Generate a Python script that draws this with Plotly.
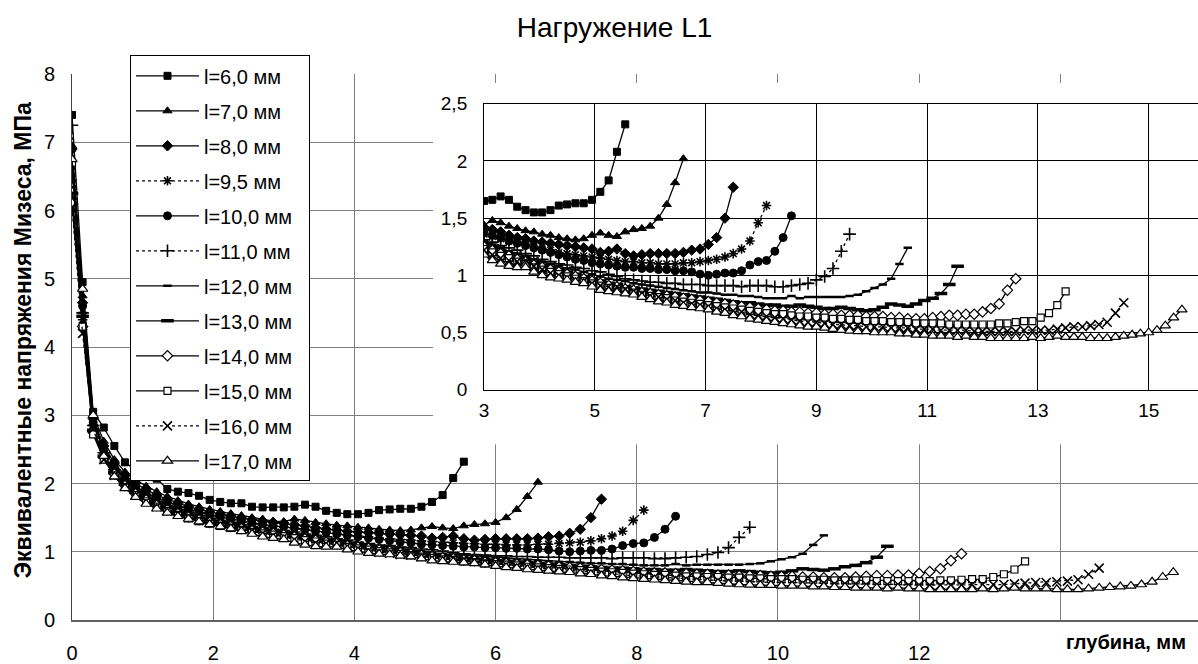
import plotly.graph_objects as go

FONT = "Liberation Sans, Arial, sans-serif"

# depth nodes along the specimen, mm
DEPTH = [
    0.0, 0.15, 0.3, 0.45, 0.6, 0.75, 0.9, 1.05, 1.2, 1.35,
    1.5, 1.65, 1.8, 1.95, 2.1, 2.25, 2.4, 2.55, 2.7, 2.85,
    3.0, 3.15, 3.3, 3.45, 3.6, 3.75, 3.9, 4.05, 4.2, 4.35,
    4.5, 4.65, 4.8, 4.95, 5.1, 5.25, 5.4, 5.55, 5.7, 5.85,
    6.0, 6.15, 6.3, 6.45, 6.6, 6.75, 6.9, 7.05, 7.2, 7.35,
    7.5, 7.65, 7.8, 7.95, 8.1, 8.25, 8.4, 8.55, 8.7, 8.85,
    9.0, 9.15, 9.3, 9.45, 9.6, 9.75, 9.9, 10.05, 10.2, 10.35,
    10.5, 10.65, 10.8, 10.95, 11.1, 11.25, 11.4, 11.55, 11.7, 11.85,
    12.0, 12.15, 12.3, 12.45, 12.6, 12.75, 12.9, 13.05, 13.2, 13.35,
    13.5, 13.65, 13.8, 13.95, 14.1, 14.25, 14.4, 14.55, 14.7, 14.85,
    15.0, 15.15, 15.3, 15.45, 15.6,
]

LABELS = ["l=6,0 мм", "l=7,0 мм", "l=8,0 мм", "l=9,5 мм", "l=10,0 мм", "l=11,0 мм",
          "l=12,0 мм", "l=13,0 мм", "l=14,0 мм", "l=15,0 мм", "l=16,0 мм", "l=17,0 мм"]

# von Mises stress, MPa (one value per depth node)
L6 = [7.40, 4.95, 3.05, 2.82, 2.55, 2.31, 2.20, 2.12, 2.07, 1.92,
      1.88, 1.86, 1.82, 1.76, 1.73, 1.71, 1.71, 1.66, 1.65, 1.65,
      1.65, 1.66, 1.69, 1.66, 1.60, 1.57, 1.55, 1.55, 1.57, 1.61,
      1.62, 1.63, 1.63, 1.66, 1.73, 1.83, 2.08, 2.32]
L7 = [6.95, 4.75, 3.00, 2.62, 2.35, 2.17, 2.05, 1.96, 1.88, 1.81,
      1.75, 1.70, 1.66, 1.62, 1.59, 1.56, 1.53, 1.50, 1.48, 1.45,
      1.44, 1.48, 1.46, 1.43, 1.41, 1.39, 1.38, 1.36, 1.35, 1.33,
      1.32, 1.31, 1.32, 1.35, 1.37, 1.35, 1.34, 1.38, 1.40, 1.41,
      1.43, 1.50, 1.62, 1.81, 2.02]
L8 = [6.90, 4.65, 2.95, 2.55, 2.30, 2.12, 2.00, 1.91, 1.83, 1.77,
      1.71, 1.66, 1.62, 1.58, 1.55, 1.52, 1.49, 1.47, 1.45, 1.43,
      1.42, 1.40, 1.38, 1.35, 1.33, 1.32, 1.30, 1.29, 1.28, 1.27,
      1.26, 1.25, 1.24, 1.23, 1.20, 1.21, 1.23, 1.19, 1.17, 1.18,
      1.19, 1.19, 1.19, 1.19, 1.20, 1.22, 1.23, 1.27, 1.33, 1.50,
      1.77]
L9_5 = [6.45, 4.40, 2.85, 2.45, 2.22, 2.05, 1.93, 1.84, 1.77, 1.71,
        1.65, 1.61, 1.57, 1.53, 1.50, 1.47, 1.44, 1.41, 1.39, 1.37,
        1.36, 1.34, 1.32, 1.30, 1.29, 1.27, 1.25, 1.23, 1.22, 1.20,
        1.19, 1.18, 1.17, 1.16, 1.15, 1.14, 1.13, 1.12, 1.12, 1.11,
        1.11, 1.10, 1.10, 1.10, 1.11, 1.11, 1.12, 1.13, 1.14, 1.16,
        1.19, 1.23, 1.30, 1.46, 1.61]
L10 = [6.90, 4.60, 2.90, 2.50, 2.25, 2.08, 1.95, 1.86, 1.79, 1.73,
       1.67, 1.62, 1.58, 1.54, 1.51, 1.48, 1.45, 1.42, 1.40, 1.38,
       1.37, 1.35, 1.33, 1.30, 1.28, 1.26, 1.24, 1.22, 1.20, 1.18,
       1.16, 1.14, 1.13, 1.11, 1.10, 1.09, 1.08, 1.07, 1.07, 1.06,
       1.06, 1.05, 1.05, 1.04, 1.04, 1.03, 1.01, 1.00, 1.01, 1.02,
       1.02, 1.04, 1.09, 1.12, 1.13, 1.21, 1.33, 1.52]
L11 = [7.25, 4.50, 2.85, 2.45, 2.20, 2.03, 1.91, 1.82, 1.74, 1.68,
       1.62, 1.57, 1.53, 1.49, 1.46, 1.43, 1.40, 1.37, 1.35, 1.33,
       1.31, 1.29, 1.26, 1.24, 1.22, 1.19, 1.17, 1.14, 1.12, 1.10,
       1.09, 1.07, 1.06, 1.04, 1.03, 1.01, 0.99, 0.97, 0.96, 0.95,
       0.94, 0.94, 0.93, 0.93, 0.92, 0.92, 0.92, 0.91, 0.91, 0.91,
       0.91, 0.90, 0.91, 0.91, 0.91, 0.90, 0.90, 0.91, 0.92, 0.93,
       0.96, 0.99, 1.06, 1.21, 1.36]
L12 = [6.20, 4.50, 2.80, 2.42, 2.18, 2.01, 1.89, 1.80, 1.72, 1.66,
       1.60, 1.55, 1.51, 1.47, 1.44, 1.41, 1.38, 1.35, 1.33, 1.31,
       1.29, 1.27, 1.24, 1.21, 1.19, 1.17, 1.14, 1.12, 1.10, 1.08,
       1.06, 1.05, 1.03, 1.01, 0.99, 0.97, 0.96, 0.95, 0.93, 0.92,
       0.91, 0.90, 0.89, 0.88, 0.87, 0.86, 0.85, 0.85, 0.84, 0.83,
       0.83, 0.82, 0.82, 0.81, 0.80, 0.80, 0.80, 0.82, 0.80, 0.81,
       0.81, 0.81, 0.81, 0.81, 0.82, 0.83, 0.86, 0.89, 0.92, 0.97,
       1.10, 1.24]
L13 = [6.25, 4.45, 2.78, 2.40, 2.16, 1.99, 1.87, 1.78, 1.70, 1.64,
       1.58, 1.53, 1.49, 1.45, 1.42, 1.39, 1.36, 1.33, 1.31, 1.29,
       1.27, 1.24, 1.21, 1.19, 1.16, 1.14, 1.11, 1.09, 1.07, 1.05,
       1.03, 1.01, 0.99, 0.97, 0.95, 0.93, 0.92, 0.90, 0.89, 0.88,
       0.87, 0.86, 0.85, 0.84, 0.83, 0.82, 0.81, 0.80, 0.79, 0.78,
       0.77, 0.76, 0.76, 0.75, 0.74, 0.74, 0.73, 0.73, 0.74, 0.73,
       0.72, 0.71, 0.71, 0.72, 0.71, 0.70, 0.69, 0.70, 0.72, 0.75,
       0.74, 0.73, 0.75, 0.78, 0.80, 0.84, 0.92, 1.08]
L14 = [6.10, 4.30, 2.75, 2.38, 2.14, 1.97, 1.85, 1.76, 1.68, 1.62,
       1.56, 1.51, 1.47, 1.43, 1.40, 1.37, 1.34, 1.31, 1.29, 1.27,
       1.25, 1.22, 1.19, 1.17, 1.14, 1.12, 1.09, 1.07, 1.05, 1.03,
       1.01, 0.99, 0.97, 0.95, 0.93, 0.91, 0.90, 0.88, 0.87, 0.85,
       0.84, 0.83, 0.82, 0.81, 0.80, 0.79, 0.78, 0.77, 0.76, 0.75,
       0.74, 0.73, 0.72, 0.71, 0.70, 0.69, 0.69, 0.68, 0.68, 0.67,
       0.67, 0.66, 0.66, 0.65, 0.65, 0.65, 0.64, 0.64, 0.64, 0.63,
       0.63, 0.62, 0.62, 0.62, 0.63, 0.64, 0.65, 0.65, 0.66, 0.66,
       0.68, 0.71, 0.75, 0.87, 0.97]
L15 = [6.70, 4.30, 2.72, 2.35, 2.12, 1.95, 1.83, 1.74, 1.66, 1.60,
       1.54, 1.49, 1.45, 1.41, 1.38, 1.35, 1.32, 1.29, 1.27, 1.25,
       1.23, 1.20, 1.17, 1.15, 1.12, 1.10, 1.07, 1.05, 1.03, 1.01,
       0.99, 0.97, 0.95, 0.93, 0.91, 0.89, 0.88, 0.86, 0.85, 0.83,
       0.82, 0.81, 0.80, 0.78, 0.77, 0.76, 0.75, 0.74, 0.73, 0.72,
       0.71, 0.70, 0.69, 0.68, 0.67, 0.66, 0.66, 0.65, 0.64, 0.64,
       0.63, 0.63, 0.62, 0.62, 0.61, 0.61, 0.60, 0.60, 0.60, 0.59,
       0.59, 0.59, 0.58, 0.58, 0.58, 0.58, 0.57, 0.57, 0.57, 0.57,
       0.57, 0.57, 0.58, 0.58, 0.59, 0.60, 0.60, 0.63, 0.67, 0.74,
       0.86]
L16 = [6.05, 4.20, 2.80, 2.35, 2.12, 1.96, 1.83, 1.74, 1.66, 1.60,
       1.55, 1.50, 1.46, 1.43, 1.39, 1.36, 1.33, 1.30, 1.27, 1.24,
       1.22, 1.18, 1.15, 1.13, 1.12, 1.13, 1.08, 1.05, 1.02, 1.00,
       0.98, 0.96, 0.95, 0.93, 0.91, 0.90, 0.90, 0.88, 0.86, 0.84,
       0.82, 0.81, 0.79, 0.78, 0.76, 0.75, 0.74, 0.73, 0.71, 0.70,
       0.69, 0.68, 0.66, 0.65, 0.64, 0.63, 0.62, 0.61, 0.60, 0.59,
       0.59, 0.58, 0.57, 0.57, 0.56, 0.56, 0.55, 0.55, 0.55, 0.54,
       0.54, 0.54, 0.53, 0.53, 0.53, 0.52, 0.52, 0.52, 0.52, 0.51,
       0.51, 0.51, 0.51, 0.51, 0.51, 0.52, 0.52, 0.52, 0.52, 0.53,
       0.54, 0.55, 0.55, 0.56, 0.57, 0.59, 0.67, 0.76]
L17 = [6.75, 4.85, 3.00, 2.40, 2.10, 1.93, 1.80, 1.70, 1.63, 1.57,
       1.52, 1.48, 1.44, 1.40, 1.37, 1.34, 1.30, 1.26, 1.22, 1.20,
       1.18, 1.13, 1.10, 1.08, 1.07, 1.07, 1.03, 1.00, 0.98, 0.97,
       0.96, 0.94, 0.93, 0.90, 0.87, 0.86, 0.85, 0.84, 0.83, 0.81,
       0.79, 0.77, 0.76, 0.74, 0.73, 0.72, 0.71, 0.70, 0.68, 0.67,
       0.65, 0.64, 0.62, 0.61, 0.60, 0.59, 0.58, 0.57, 0.56, 0.55,
       0.55, 0.54, 0.53, 0.52, 0.515, 0.51, 0.51, 0.50, 0.50, 0.50,
       0.49, 0.49, 0.48, 0.48, 0.47, 0.47, 0.47, 0.46, 0.47, 0.46,
       0.46, 0.45, 0.45, 0.45, 0.45, 0.45, 0.46, 0.45, 0.46, 0.47,
       0.46, 0.46, 0.46, 0.45, 0.45, 0.45, 0.46, 0.47, 0.48, 0.49,
       0.50, 0.52, 0.56, 0.63, 0.70]

SERIES = [L6, L7, L8, L9_5, L10, L11, L12, L13, L14, L15, L16, L17]

MAIN_X_TICKS = [0, 2, 4, 6, 8, 10, 12, 14]
MAIN_X_TEXT = ["0", "2", "4", "6", "8", "10", "12", ""]
INSET_X_TICKS = [3, 5, 7, 9, 11, 13, 15]

# Excel-like marker styles: (symbol, fill, size, marker line width, line dash)
STYLES = [
    ("square", "black", 7, 1, "solid"),
    ("triangle-up", "black", 8, 1, "solid"),
    ("diamond", "black", 8, 1, "solid"),
    ("asterisk-open", "black", 8, 1.6, "dot"),
    ("circle", "black", 8, 1, "solid"),
    ("cross-thin-open", "black", 9, 1.6, "dot"),
    ("line-ew-open", "black", 6, 2.5, "solid"),
    ("line-ew-open", "black", 9, 3.5, "solid"),
    ("diamond", "white", 8, 1.2, "solid"),
    ("square", "white", 7, 1.2, "solid"),
    ("x-thin-open", "black", 9, 1.6, "dot"),
    ("triangle-up", "white", 9, 1.2, "solid"),
]


def add_series(fig, xaxis, yaxis, show_legend):
    for label, values, (symbol, fill, size, mlw, dash) in zip(LABELS, SERIES, STYLES):
        fig.add_trace(go.Scatter(
            x=DEPTH[:len(values)], y=values, name=label + "\u00a0\u00a0", legendgroup=label,
            mode="lines+markers", showlegend=show_legend, xaxis=xaxis, yaxis=yaxis,
            line=dict(color="black", width=1.3, dash=dash),
            marker=dict(symbol=symbol, color=fill, size=size,
                        line=dict(color="black", width=mlw)),
        ))


fig = go.Figure()
add_series(fig, "x", "y", True)
# empty subplot used only as a white panel behind the inset
fig.add_trace(go.Scatter(x=[], y=[], xaxis="x2", yaxis="y2", showlegend=False, hoverinfo="skip"))
add_series(fig, "x3", "y3", False)

fig.update_layout(
    width=1198, height=664,
    margin=dict(l=72, r=0, t=74, b=40),
    paper_bgcolor="white", plot_bgcolor="white",
    separators=", ",
    font=dict(family=FONT, size=20, color="black"),
    showlegend=True,
    title=dict(text="Нагружение L1", x=0.513, xanchor="center", y=0.959, yanchor="middle",
               font=dict(family=FONT, size=28, color="black")),
    legend=dict(x=0.0515, y=0.254, xanchor="left", yanchor="bottom", bgcolor="white",
                bordercolor="black", borderwidth=1, font=dict(size=20),
                tracegroupgap=6, itemwidth=63),
    xaxis=dict(domain=[0, 1], range=[0, 15.95], tickvals=MAIN_X_TICKS, ticktext=MAIN_X_TEXT,
               showgrid=True, gridcolor="#808080", gridwidth=1, zeroline=False,
               showline=True, linecolor="#606060", linewidth=2, ticks="",
               ticklabelstandoff=14, anchor="y"),
    yaxis=dict(domain=[0, 1], range=[0, 8], dtick=1, tick0=0,
               showgrid=True, gridcolor="#808080", gridwidth=1, zeroline=False,
               showline=True, linecolor="#404040", linewidth=1, ticks="",
               ticklabelstandoff=12, anchor="x"),
    xaxis2=dict(domain=[0.3206, 1.0], range=[0, 1], visible=False, anchor="y2"),
    yaxis2=dict(domain=[0.3218, 0.9836], range=[0, 1], visible=False, anchor="x2"),
    xaxis3=dict(domain=[0.3659, 1.0], range=[3, 15.89], tickvals=INSET_X_TICKS,
                showgrid=True, gridcolor="black", gridwidth=1, zeroline=False,
                showline=True, mirror=True, linecolor="black", linewidth=1, ticks="",
                tickfont=dict(size=19), ticklabelstandoff=4, anchor="y3"),
    yaxis3=dict(domain=[0.4218, 0.9455], range=[0, 2.5], dtick=0.5, tick0=0,
                showgrid=True, gridcolor="black", gridwidth=1, zeroline=False,
                showline=True, linecolor="black", linewidth=1, ticks="",
                tickfont=dict(size=19), ticklabelstandoff=12, anchor="x3"),
    shapes=[dict(type="rect", xref="x2", yref="y2", x0=0, x1=1, y0=0, y1=1,
                 fillcolor="white", line=dict(width=0), layer="below")],
    annotations=[
        dict(text="<b>Эквивалентные напряжения Мизеса, МПа</b>", textangle=-90,
             xref="paper", yref="paper", x=-0.044, y=0.513, xanchor="center", yanchor="middle",
             showarrow=False, font=dict(size=23)),
        dict(text="<b>глубина, мм</b>", xref="paper", yref="paper", x=0.991, y=-0.04,
             xanchor="right", yanchor="middle", showarrow=False, font=dict(size=20)),
    ],
)

fig.write_html("out.html", config={"displayModeBar": False},
               post_script="document.body.style.margin='0';")
